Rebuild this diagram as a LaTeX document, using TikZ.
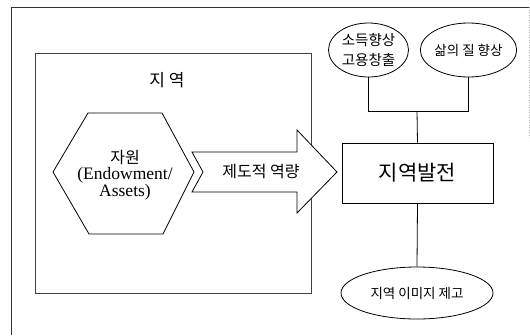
\documentclass[tikz,border=0pt]{standalone}
\usepackage{fontspec}
\setmainfont{Liberation Serif}
\newfontfamily\kr{Noto Sans CJK KR}
\usetikzlibrary{shapes.geometric}
\tikzset{
  ln/.style={draw=black, line width=0.8pt},
  ell/.style={ellipse, ln, inner sep=0pt, align=center},
  krtext/.style={font=\kr, align=center, inner sep=0pt},
}
\begin{document}
\begin{tikzpicture}[x=1pt, y=-1pt]
\useasboundingbox (0,0) rectangle (530,335);
\fill[white] (0,0) rectangle (530,335);
% outer frame
\draw[line width=0.8pt, black!80] (11,335) -- (11,7) -- (530,7);
\draw[line width=0.5pt, black!30, dotted] (529,7) -- (529,137);
% inner region box
\draw[line width=0.7pt, black!75] (35,53) rectangle (311,293);
\node[krtext, font=\kr\fontsize{17}{20}\selectfont] (region) at (167,80) {지\hspace{4pt}역};
% hexagon
\draw[ln, fill=white] (88,113) -- (162,113) -- (194,172) -- (163,234) -- (89,234) -- (53,172) -- cycle;
\node[align=center, inner sep=0pt] (res) at (125,175)
  {{\kr\fontsize{16}{18}\selectfont 자원}\\[2pt]
   {\fontsize{17.5}{21}\selectfont (Endowment/}\\
   {\fontsize{17.5}{21}\selectfont Assets)}};
% big arrow
\draw[ln, fill=white] (192,152) -- (297,152) -- (297,130) -- (337,172) -- (297,213) -- (297,192) -- (192,192) -- (203,172) -- cycle;
\node[krtext, font=\kr\fontsize{16}{19}\selectfont] (cap) at (261,172) {제도적 역량};
% development box
\node[ln, minimum width=151pt, minimum height=60pt, inner sep=0pt, font=\kr\fontsize{21}{24}\selectfont] (dev) at (417.5,173) {지역발전};
% ellipses
\node[ell, minimum width=80pt, minimum height=54pt, font=\kr\fontsize{14.5}{20}\selectfont] (e1) at (368.5,50) {소득향상\\고용창출};
\node[ell, minimum width=82pt, minimum height=54pt, font=\kr\fontsize{13.5}{16}\selectfont] (e2) at (468.5,50) {삶의 질 향상};
\node[ell, minimum width=152pt, minimum height=52pt, font=\kr\fontsize{13.5}{16}\selectfont] (e3) at (417,293) {지역 이미지 제고};
% connectors
\coordinate (j) at (417,111);
\draw[ln] (e1.south) |- (e2.south |- j) -- (e2.south);
\draw[ln] (j) -- (dev.north);
\draw[ln] (dev.south) -- (e3.north);
\end{tikzpicture}
\end{document}
